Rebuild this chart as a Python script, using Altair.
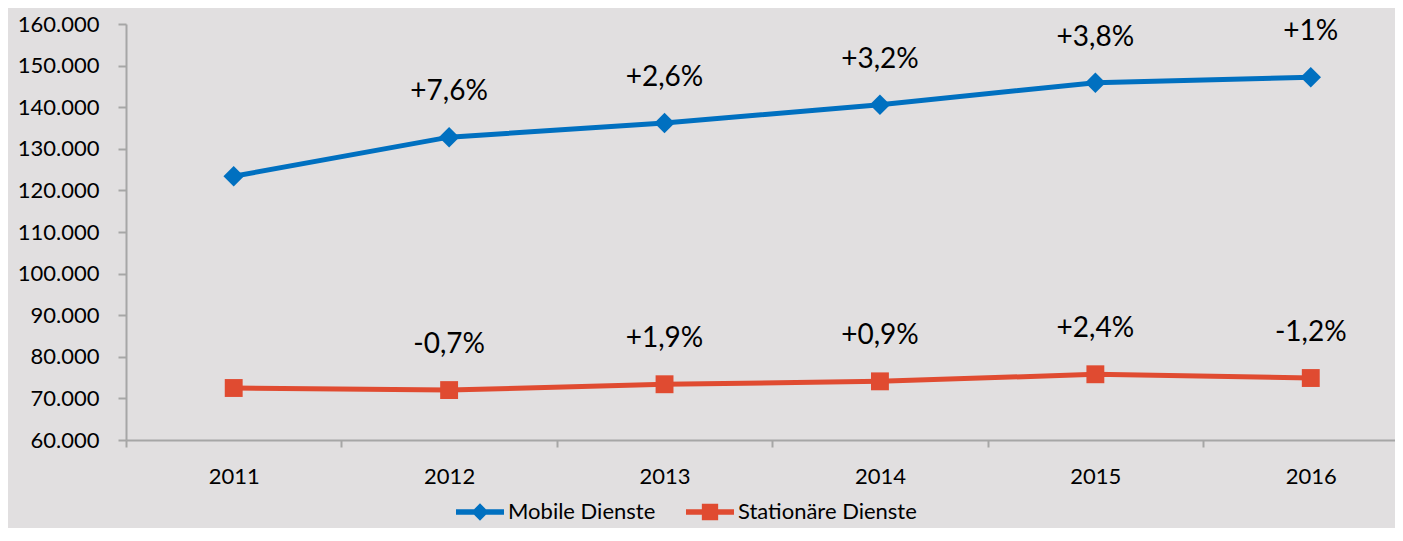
import altair as alt
import pandas as pd

years = [2011, 2012, 2013, 2014, 2015, 2016]
series_names = ["Mobile Dienste", "Stationäre Dienste"]
mobile = [123400, 132800, 136200, 140600, 145900, 147200]
stationaer = [72500, 72000, 73400, 74100, 75800, 74900]
mobile_labels = ["", "+7,6%", "+2,6%", "+3,2%", "+3,8%", "+1%"]
stationaer_labels = ["", "-0,7%", "+1,9%", "+0,9%", "+2,4%", "-1,2%"]
y_ticks = list(range(60000, 160001, 10000))
x_tick_positions = [y - 0.5 for y in years]  # boundaries between categories
colors = ["#0070C0", "#E04B31"]

rows = []
for yr, v, lab in zip(years, mobile, mobile_labels):
    rows.append({"year": yr, "value": v, "series": series_names[0], "label": lab})
for yr, v, lab in zip(years, stationaer, stationaer_labels):
    rows.append({"year": yr, "value": v, "series": series_names[1], "label": lab})
df = pd.DataFrame(rows)
df["legend_series"] = df["series"]

FONT = "Lato"
GRAY = "#A6A6A6"
BG = "#E1DFE0"

x_enc = alt.X(
    "year:Q",
    scale=alt.Scale(domain=[2010.5, 2016.391], nice=False, zero=False),
    axis=alt.Axis(
        values=x_tick_positions,
        labelExpr="format(datum.value + 0.5, 'd')",
        labelOffset=107.7,
        labelFlush=False,
        labelOverlap=False,
        tickSize=7,
        labelPadding=19,
        grid=False,
        title=None,
        domainColor=GRAY,
        tickColor=GRAY,
        domainWidth=2,
        tickWidth=2,
        labelFont=FONT,
        labelFontSize=22,
        labelColor="black",
    ),
)
y_enc = alt.Y(
    "value:Q",
    scale=alt.Scale(domain=[60000, 160000], nice=False, zero=False),
    axis=alt.Axis(
        values=y_ticks,
        labelExpr="replace(format(datum.value, ','), ',', '.')",
        tickSize=8,
        labelPadding=19,
        grid=False,
        title=None,
        domainColor=GRAY,
        tickColor=GRAY,
        domainWidth=2,
        tickWidth=2,
        labelFont=FONT,
        labelFontSize=22,
        labelColor="black",
    ),
)

color_scale = alt.Scale(domain=series_names, range=colors)

base = alt.Chart(df)

lines = base.mark_line(strokeWidth=5).encode(
    x=x_enc, y=y_enc,
    color=alt.Color("series:N", scale=color_scale, legend=None),
)

pts_mobile = base.transform_filter(
    alt.datum.series == series_names[0]
).mark_point(shape="diamond", filled=True, size=420, opacity=1).encode(
    x="year:Q", y="value:Q",
    color=alt.Color("series:N", scale=color_scale, legend=None),
)
pts_stat = base.transform_filter(
    alt.datum.series == series_names[1]
).mark_point(shape="square", filled=True, size=320, opacity=1).encode(
    x="year:Q", y="value:Q",
    color=alt.Color("series:N", scale=color_scale, legend=None),
)

labels = base.transform_filter(alt.datum.label != "").mark_text(
    dy=-45, fontSize=28, font=FONT, color="black", baseline="middle"
).encode(x="year:Q", y="value:Q", text="label:N")

diamond_path = "M-1,-0.11L1,-0.11L1,0.11L-1,0.11Z M0,-0.36L0.36,0L0,0.36L-0.36,0Z"
square_path = "M-1,-0.11L1,-0.11L1,0.11L-1,0.11Z M-0.34,-0.34L0.34,-0.34L0.34,0.34L-0.34,0.34Z"

leg = alt.Legend(
    title=None, orient="none", legendX=330, legendY=464,
    direction="horizontal", padding=0, columnPadding=30,
    labelOffset=4, symbolSize=2304, symbolStrokeWidth=0,
    labelFont=FONT, labelFontSize=22, labelColor="black",
    labelLimit=400, symbolOpacity=1,
)

legend_layer = base.transform_filter("false").mark_point(
    filled=True, size=2304, opacity=1
).encode(
    x="year:Q", y="value:Q",
    color=alt.Color(
        "legend_series:N",
        scale=alt.Scale(domain=series_names, range=colors),
        legend=leg,
    ),
    shape=alt.Shape(
        "legend_series:N",
        scale=alt.Scale(domain=series_names, range=[diamond_path, square_path]),
        legend=leg,
    ),
)

chart = alt.layer(lines, pts_mobile, pts_stat, labels, legend_layer).resolve_scale(
    color="independent", shape="independent"
).resolve_legend(color="independent", shape="independent").properties(
    width=1269,
    height=416,
    autosize=alt.AutoSizeParams(type="none"),
    padding={"left": 118, "top": 16, "right": 0, "bottom": 88},
    background=BG,
).configure_view(stroke=None)

chart.save("out.html", embed_options={"renderer": "svg", "actions": False})
